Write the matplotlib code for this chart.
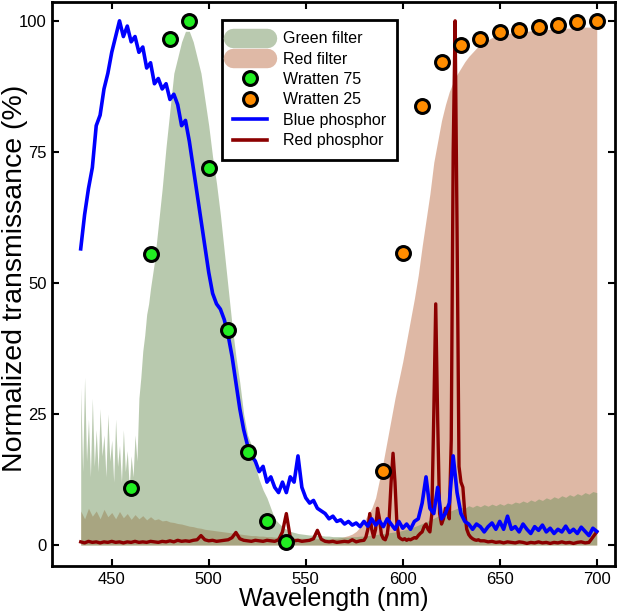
import matplotlib
matplotlib.use('Agg')
import matplotlib.pyplot as plt
from matplotlib.lines import Line2D
import numpy as np

plt.rcParams['font.family'] = ['Liberation Sans', 'DejaVu Sans']

# Wratten filters (measured points)
wratten75_nm = [460, 470, 480, 490, 500, 510, 520, 530, 540]
wratten75_val = [10.8, 55.5, 96.5, 100, 72, 41, 17.7, 4.6, 0.6]
wratten25_nm = [590, 600, 610, 620, 630, 640, 650, 660, 670, 680, 690, 700]
wratten25_val = [14.1, 55.8, 83.7, 92.2, 95.4, 96.6, 97.8, 98.3, 98.8, 99.2, 99.7, 99.9]

# Blue phosphor (every 2 nm)
blue_nm = np.arange(434, 701, 2)
blue_val = [56.5, 63, 68, 72, 80, 82, 87, 90, 94, 97, 100, 97, 99, 96, 97, 94, 95, 91, 92, 88,
            89, 87, 88, 85, 86, 84, 80, 81, 77, 72, 67, 62, 57, 52, 48, 46, 45, 43, 40, 36,
            31, 26, 22, 19, 17, 16, 14, 15, 12, 13, 11, 10, 12, 10, 13, 12, 17, 11, 9, 8,
            8.5, 7, 6.5, 6, 5, 5.5, 4.5, 4.8, 4, 4.5, 3.8, 4.2, 3.5, 4.5, 3.6, 5, 3.8, 4.6, 3.5, 5,
            4, 3, 4.5, 3.2, 4, 3, 4.5, 5, 8, 13, 7, 6, 11, 5, 6, 8, 17, 10, 6, 4.5,
            4, 3, 4, 3.5, 2.5, 3.5, 4.2, 3, 4.5, 3, 5.5, 3, 3.5, 2.5, 4, 3, 2.2, 3.5, 2.8, 3.8,
            2.5, 3.2, 2.2, 3, 2.5, 3.6, 2.4, 3, 2.2, 3.4, 2.6, 1.8, 3.2, 2.6]

# Red phosphor (2 nm, 1 nm around the lines, 2 nm)
red_nm = np.concatenate([np.arange(434, 580, 2), np.arange(580, 641, 1), np.arange(642, 701, 2)])
red_val = [0.6, 0.4, 0.7, 0.5, 0.6, 0.4, 0.6, 0.5, 0.7, 0.5, 0.6, 0.4, 0.6, 0.5, 0.7, 0.5, 0.6, 0.5,
           0.7, 0.6, 0.5, 0.7, 0.6, 0.8, 0.6, 0.9, 0.7, 0.8, 0.7, 0.9, 1.0, 1.8, 1.0, 0.8, 0.9, 0.7,
           0.8, 0.9, 1.0, 1.4, 2.4, 1.2, 0.9, 0.8, 0.7, 0.9, 0.8, 0.7, 0.9, 0.8, 0.7, 1.0, 2.5, 6.0,
           1.5, 0.8, 0.9, 0.7, 0.8, 0.9, 1.2, 2.8, 1.1, 0.7, 0.6, 0.7, 0.5, 0.6, 0.7, 0.6, 1.0, 0.6,
           0.8,
           0.9, 1.5, 3, 6, 3, 1.5, 3, 7, 5, 2, 1.2, 1, 2, 5, 12, 17.5, 12, 4, 1.5, 1.2,
           1, 1.2, 0.9, 1.1, 1, 1.2, 1.4, 1.3, 1.8, 2.2, 2.5, 3.5, 4, 3, 2.5, 6, 25, 46, 24, 6,
           4, 5, 7, 6.5, 5, 20, 75, 100, 60, 15, 12, 11, 6, 3, 2, 1.5, 1.2, 1, 0.9, 1, 0.8,
           0.8, 0.6, 0.7, 0.5, 0.6, 0.4, 0.6, 0.5, 0.4, 0.6, 0.5, 0.3, 0.5, 0.4, 0.6, 0.4, 0.5, 0.3,
           0.5, 0.4, 0.6, 0.4, 0.5, 0.3, 0.5, 0.6, 0.4, 0.5, 1.5, 2.5]

# Green filter (1 nm in the noisy part, then 2 nm)
green_nm = np.concatenate([np.arange(434, 470, 1), np.arange(470, 701, 2)])
green_val = [30, 14, 32, 16, 24, 13, 28, 15, 22, 14, 26, 17, 21, 13, 25, 16, 20, 12, 24, 15,
             19, 12, 22, 14, 18, 11, 17, 13, 21, 16, 28, 32, 37, 40, 44, 46,
             49, 54, 61, 68, 76, 83, 90, 93, 96, 98, 98, 96, 93, 90, 85, 80, 74, 69, 63, 56,
             49, 42, 36, 31, 25, 21, 19, 15, 12.5, 10.5, 9, 7, 5, 4.2, 3.5, 3, 2.6, 2.4, 2.2, 2.1,
             2.0, 1.9, 1.9, 1.8, 1.8, 1.7, 1.7, 1.6, 1.6, 1.6, 1.5, 1.5, 1.6, 1.6, 1.7, 1.7, 1.8, 1.9,
             2.0, 2.1, 2.2, 2.3, 2.4, 2.5, 2.6, 2.8, 3.0, 3.2, 3.5, 3.8, 4.1, 4.4, 4.8, 5.1, 5.5, 5.8,
             6.1, 6.4, 6.7, 7.0, 7.2, 7.0, 7.5, 7.2, 7.6, 7.3, 7.7, 7.4, 7.8, 7.5, 7.9, 7.6, 8.0, 7.8,
             8.2, 8.0, 8.4, 8.1, 8.6, 8.3, 8.8, 8.5, 9.0, 8.7, 9.2, 8.9, 9.4, 9.1, 9.6, 9.3, 9.8, 9.5,
             10.0, 9.7, 10.2, 10.0]

# Red filter (every 2 nm)
redf_nm = np.arange(434, 701, 2)
redf_val = [6.5, 5, 7, 5.5, 6.5, 5, 6.8, 5.4, 6.2, 5, 6.4, 5.2, 6, 4.9, 5.8, 5, 5.6, 4.8, 5.4, 4.8,
            5.0, 4.6, 4.7, 4.4, 4.3, 4.1, 4.0, 3.8, 3.6, 3.5, 3.3, 3.2, 3.0, 2.9, 2.8, 2.7, 2.6, 2.5,
            2.4, 2.3, 2.2, 2.1, 2.0, 1.9, 1.8, 1.8, 1.7, 1.7, 1.6, 1.6, 1.5, 1.5, 1.5, 1.4, 1.4, 1.4,
            1.3, 1.3, 1.3, 1.2, 1.2, 1.2, 1.2, 1.2, 1.2, 1.3, 1.3, 1.4, 1.6, 1.8, 2.1, 2.6, 3.4, 4.5,
            5.8, 7, 9, 12.5, 16, 20, 24, 28, 31.5, 35, 39, 43, 47, 51.5, 57, 62, 67, 73, 77, 81,
            84, 86.5, 88.3, 89.8, 91, 92.2, 93.2, 94, 94.8, 95.4, 95.9, 96.4, 96.8, 97.1, 97.4, 97.5,
            97.6, 97.7, 97.8, 97.9, 98.0, 98.0, 98.1, 98.2, 98.2, 98.3, 98.3, 98.4, 98.4, 98.5, 98.5,
            98.6, 98.6, 98.7, 98.7, 98.7, 98.8, 98.8, 98.8, 98.8]

green_fill = (0.45, 0.58, 0.37)
red_fill = (0.75, 0.45, 0.30)

fig = plt.figure(figsize=(6.19, 6.12), dpi=100)
ax = fig.add_axes([0.084, 0.0752, 0.9095, 0.9216])

ax.fill_between(redf_nm, 0, redf_val, color=red_fill, alpha=0.5, linewidth=0)
ax.fill_between(green_nm, 0, green_val, color=green_fill, alpha=0.5, linewidth=0)
ax.plot(red_nm, red_val, color='#8b0000', linewidth=2.4)
ax.plot(blue_nm, blue_val, color='#0000ff', linewidth=2.6)
ax.plot(wratten75_nm, wratten75_val, 'o', color='#22ee22', markersize=10,
        markeredgecolor='black', markeredgewidth=2.2, zorder=5)
ax.plot(wratten25_nm, wratten25_val, 'o', color='#ff8c00', markersize=10,
        markeredgecolor='black', markeredgewidth=2.2, zorder=5)

ax.set_xlim(419.2, 709.4)
ax.set_ylim(-4.0, 103.6)
ax.set_xticks([450, 500, 550, 600, 650, 700])
ax.set_yticks([0, 25, 50, 75, 100])
ax.tick_params(axis='both', labelsize=12, width=1.5, length=5, direction='in',
               top=True, right=True, pad=4)
for s in ax.spines.values():
    s.set_linewidth(2)

ax.set_xlabel('Wavelength (nm)', fontsize=18, labelpad=0)
ax.set_ylabel('Normalized transmissance (%)', fontsize=20.5)
ax.yaxis.set_label_coords(-0.042, 0.51)

handles = [
    Line2D([], [], color=(185/255, 201/255, 175/255), linewidth=14, solid_capstyle='round'),
    Line2D([], [], color=(223/255, 185/255, 166/255), linewidth=14, solid_capstyle='round'),
    Line2D([], [], marker='o', linestyle='none', color='#22ee22', markersize=10,
           markeredgecolor='black', markeredgewidth=2.2),
    Line2D([], [], marker='o', linestyle='none', color='#ff8c00', markersize=10,
           markeredgecolor='black', markeredgewidth=2.2),
    Line2D([], [], color='#0000ff', linewidth=2.6),
    Line2D([], [], color='#8b0000', linewidth=2.6),
]
labels = ['Green filter', 'Red filter', 'Wratten 75', 'Wratten 25', 'Blue phosphor', 'Red phosphor']
leg = ax.legend(handles, labels, loc='upper left', bbox_to_anchor=(0.302, 0.968), borderaxespad=0,
                fontsize=11.5, frameon=True, fancybox=False, edgecolor='black',
                handlelength=2.1, handletextpad=1.0, labelspacing=0.34, borderpad=0.7)
leg.get_frame().set_linewidth(2)
leg.get_frame().set_alpha(1)

fig.savefig('out.png', dpi=100)
